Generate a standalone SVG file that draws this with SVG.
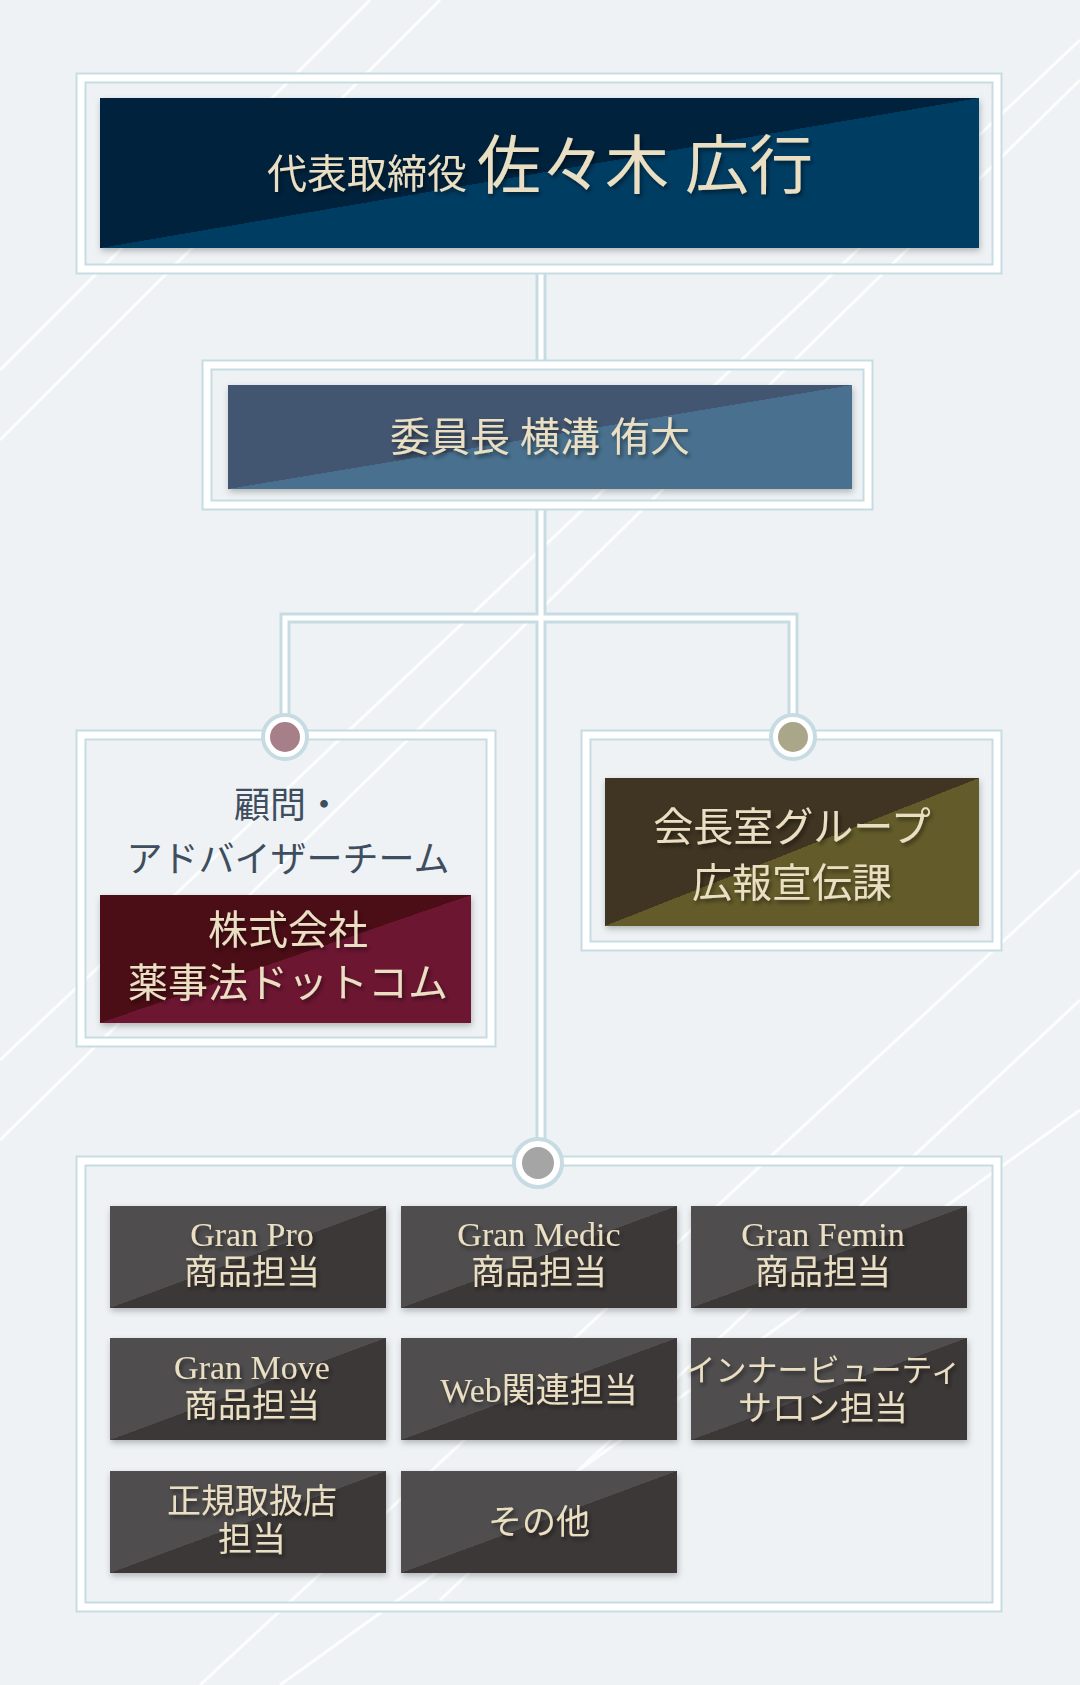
<svg xmlns="http://www.w3.org/2000/svg" width="1080" height="1685" viewBox="0 0 1080 1685">
<defs>
<linearGradient id="gTop" x1="0" y1="0" x2="1" y2="1"><stop offset="0.5" stop-color="#05213d"/><stop offset="0.5" stop-color="#013c64"/></linearGradient>
<linearGradient id="gSec" x1="0" y1="0" x2="1" y2="1"><stop offset="0.5" stop-color="#435771"/><stop offset="0.5" stop-color="#48718f"/></linearGradient>
<linearGradient id="gRed" x1="0" y1="0" x2="1" y2="1"><stop offset="0.5" stop-color="#4c0816"/><stop offset="0.5" stop-color="#6d1530"/></linearGradient>
<linearGradient id="gOl" x1="0" y1="0" x2="1" y2="1"><stop offset="0.5" stop-color="#3f3520"/><stop offset="0.5" stop-color="#645b2a"/></linearGradient>
<linearGradient id="gGr" x1="0" y1="0" x2="1" y2="1"><stop offset="0.5" stop-color="#504e4d"/><stop offset="0.5" stop-color="#3c3937"/></linearGradient>
<filter id="sh" x="-10%" y="-10%" width="120%" height="130%"><feDropShadow dx="2" dy="3" stdDeviation="2" flood-color="#000" flood-opacity="0.45"/></filter>
<filter id="bs" x="-5%" y="-5%" width="110%" height="115%"><feDropShadow dx="1" dy="3" stdDeviation="3" flood-color="#000" flood-opacity="0.25"/></filter>
</defs>
<style>
.fr{fill:none;stroke:#ffffff;stroke-width:7}
.fo{fill:none;stroke:#c6dce2;stroke-width:11}
.ln{stroke:#c6dce2;stroke-width:11;fill:none}
.li{stroke:#ffffff;stroke-width:5;fill:none}
.t{fill:#eadfc3;font-family:"Liberation Serif","Noto Sans CJK JP",serif;text-anchor:middle;filter:url(#sh)}
.d{fill:#3f4e5e;font-family:"Noto Sans CJK JP",sans-serif;text-anchor:middle;font-size:36px}
</style>
<rect width="1080" height="1685" fill="#eef2f5"/>
<g stroke="#ffffff" stroke-width="3" opacity="0.85">
<line x1="0" y1="370" x2="370" y2="0"/><line x1="0" y1="440" x2="440" y2="0"/>
<line x1="0" y1="1060" x2="1080" y2="40"/><line x1="0" y1="1140" x2="1080" y2="80"/>
<line x1="440" y1="1600" x2="1080" y2="1000"/><line x1="200" y1="1685" x2="1080" y2="870"/>
<line x1="280" y1="1685" x2="1080" y2="1110"/>
</g>
<g id="connectors">
<path class="ln" d="M541 269V365M541 505V1139M285 737V618H793V737"/>
<path class="li" d="M541 269V365M541 505V1139M285 737V618H793V737"/>
</g>
<g id="ceo">
<rect class="fo" x="81" y="78" width="916" height="191"/><rect class="fr" x="81" y="78" width="916" height="191"/>
<rect x="100" y="98" width="879" height="150" fill="url(#gTop)" filter="url(#bs)"/>
<text class="t" x="540" y="188"><tspan font-size="40">代表取締役 </tspan><tspan font-size="64">佐々木 広行</tspan></text>
</g>
<g id="chair">
<rect class="fo" x="207" y="365" width="661" height="140"/><rect class="fr" x="207" y="365" width="661" height="140"/>
<rect x="228" y="385" width="624" height="104" fill="url(#gSec)" filter="url(#bs)"/>
<text class="t" x="540" y="451" font-size="40">委員長 横溝 侑大</text>
</g>
<g id="advisor">
<rect class="fo" x="81" y="735" width="410" height="307"/><rect class="fr" x="81" y="735" width="410" height="307"/>
<circle cx="285" cy="737" r="22" fill="#fff" stroke="#c6dce2" stroke-width="4"/><circle cx="285" cy="737" r="15" fill="#a67f88"/>
<text class="d" x="288" y="818">顧問・</text><text class="d" x="288" y="872">アドバイザーチーム</text>
<rect x="100" y="895" width="371" height="128" fill="url(#gRed)" filter="url(#bs)"/>
<text class="t" x="288" y="944" font-size="40">株式会社</text><text class="t" x="288" y="997" font-size="40">薬事法ドットコム</text>
</g>
<g id="pr">
<rect class="fo" x="586" y="735" width="411" height="211"/><rect class="fr" x="586" y="735" width="411" height="211"/>
<circle cx="793" cy="737" r="22" fill="#fff" stroke="#c6dce2" stroke-width="4"/><circle cx="793" cy="737" r="15" fill="#aaa68a"/>
<rect x="605" y="778" width="374" height="148" fill="url(#gOl)" filter="url(#bs)"/>
<text class="t" x="792" y="841" font-size="40">会長室グループ</text><text class="t" x="792" y="897" font-size="40">広報宣伝課</text>
</g>
<g id="staff">
<rect class="fo" x="81" y="1161" width="916" height="446"/><rect class="fr" x="81" y="1161" width="916" height="446"/>
<circle cx="538" cy="1163" r="24" fill="#fff" stroke="#c6dce2" stroke-width="4"/><circle cx="538" cy="1163" r="16" fill="#a5a5a5"/>
</g>
<g id="b1"><rect x="110" y="1206" width="276" height="102" fill="url(#gGr)" filter="url(#bs)"/><text class="t" x="252" y="1246" font-size="34">Gran Pro</text><text class="t" x="252" y="1284" font-size="34">商品担当</text></g>
<g id="b2"><rect x="401" y="1206" width="276" height="102" fill="url(#gGr)" filter="url(#bs)"/><text class="t" x="539" y="1246" font-size="34">Gran Medic</text><text class="t" x="539" y="1284" font-size="34">商品担当</text></g>
<g id="b3"><rect x="691" y="1206" width="276" height="102" fill="url(#gGr)" filter="url(#bs)"/><text class="t" x="823" y="1246" font-size="34">Gran Femin</text><text class="t" x="823" y="1284" font-size="34">商品担当</text></g>
<g id="b4"><rect x="110" y="1338" width="276" height="102" fill="url(#gGr)" filter="url(#bs)"/><text class="t" x="252" y="1379" font-size="34">Gran Move</text><text class="t" x="252" y="1417" font-size="34">商品担当</text></g>
<g id="b5"><rect x="401" y="1338" width="276" height="102" fill="url(#gGr)" filter="url(#bs)"/><text class="t" x="539" y="1402" font-size="34">Web関連担当</text></g>
<g id="b6"><rect x="691" y="1338" width="276" height="102" fill="url(#gGr)" filter="url(#bs)"/><text class="t" x="823" y="1381" font-size="31">インナービューティ</text><text class="t" x="823" y="1420" font-size="34">サロン担当</text></g>
<g id="b7"><rect x="110" y="1471" width="276" height="102" fill="url(#gGr)" filter="url(#bs)"/><text class="t" x="252" y="1513" font-size="34">正規取扱店</text><text class="t" x="252" y="1551" font-size="34">担当</text></g>
<g id="b8"><rect x="401" y="1471" width="276" height="102" fill="url(#gGr)" filter="url(#bs)"/><text class="t" x="539" y="1534" font-size="34">その他</text></g>
</svg>
